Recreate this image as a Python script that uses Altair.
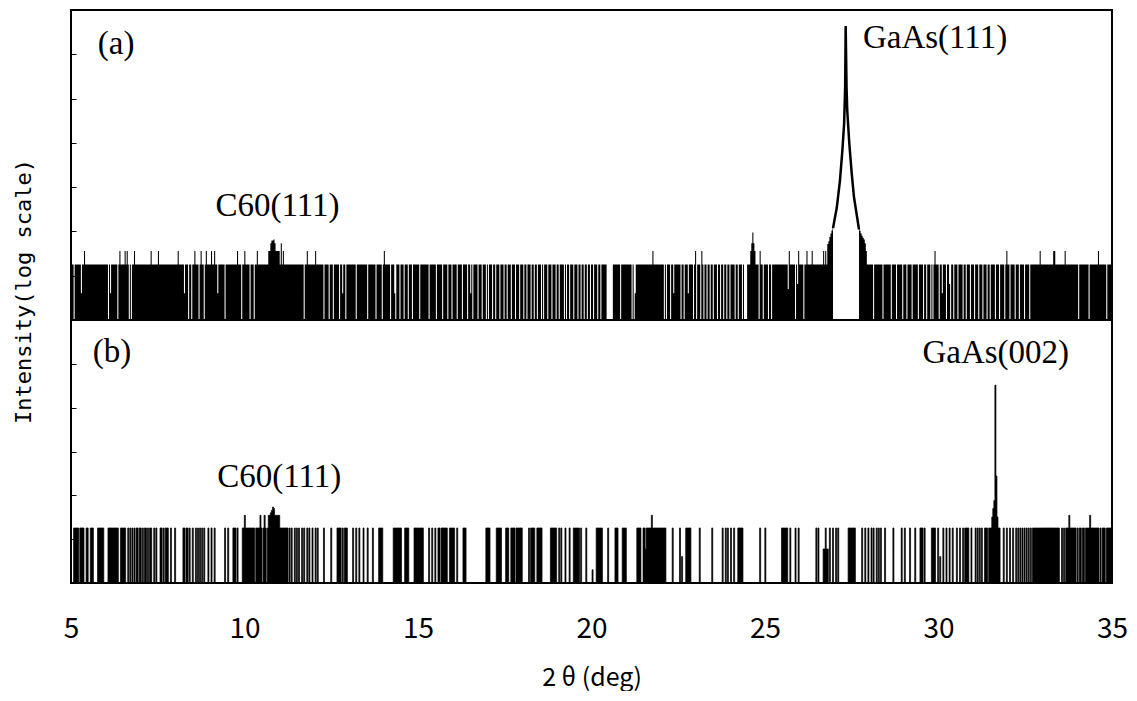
import altair as alt
import numpy as np
import pandas as pd

# ---------------- scan axis ----------------
STEP = 0.03
X_MIN, X_MAX = 5.0, 35.0
X_TICKS = [5, 10, 15, 20, 25, 30, 35]
Y_TICKS_A = [10, 100, 1e3, 1e4, 1e5, 1e6]
Y_TICKS_B = [10, 100, 1e3, 1e4, 1e5]
FLOOR = 1            # bottom of the log axes (zero counts sit here)

# ---------------- panel (a) ----------------
BASE_A = 18          # background count level
SPIKE_A = 36         # single-count spikes above background
GAPS_A = [
    5.09, 6.07, 6.34, 6.69, 6.74, 8.39, 8.49, 8.68, 8.85, 9.43, 9.91, 10.16, 10.29,
    11.73, 12.30, 12.45, 12.56, 12.73, 12.91, 13.21, 13.55, 13.79, 13.98, 14.22,
    14.37, 14.48, 14.61, 14.73, 14.85, 15.04, 15.33, 15.54, 15.71, 15.86, 15.98,
    16.14, 16.29, 16.43, 16.58, 16.72, 16.86, 16.97, 17.03, 17.14, 17.24, 17.36,
    17.48, 17.57, 17.69, 17.82, 17.94, 18.04, 18.13, 18.25, 18.34, 18.44, 18.55,
    18.63, 18.75, 18.87, 18.97, 19.06, 19.21, 19.28, 19.38, 19.50, 19.61, 19.69,
    19.78, 19.88, 19.96, 20.07, 20.19, 20.27, 20.45, 20.48, 20.51, 20.54, 20.57,
    20.60, 20.84, 21.18, 21.24, 22.09, 22.17, 22.28, 22.57, 22.67, 22.93, 23.04,
    23.14, 23.23, 23.33, 23.42, 23.52, 23.62, 23.71, 23.81, 23.91, 24.00, 24.13,
    24.24, 24.36, 24.40, 24.43, 24.46, 24.82, 24.96, 25.09, 25.20, 25.87, 26.11,
    28.12, 28.41, 28.65, 28.79, 28.97, 29.08, 29.23, 29.42, 29.56, 29.66, 29.77,
    29.85, 30.02, 30.24, 30.35, 30.45, 30.57, 30.70, 30.81, 30.93, 31.05, 31.15,
    31.27, 31.41, 31.50, 31.63, 31.77, 31.92, 32.06, 32.20, 32.33, 32.49, 32.62,
    34.03, 34.35, 34.85,
]
LOW_A = [(5.30, 4), (6.14, 4), (8.28, 4), (9.24, 4), (12.83, 4), (14.32, 4),
         (16.53, 4), (21.27, 4), (22.38, 4), (22.78, 4), (25.68, 5), (25.95, 6.5),
         (30.12, 4), (30.31, 6.5)]
SPIKES_A = [5.39, 6.40, 6.55, 6.62, 6.84, 7.30, 7.51, 8.08, 8.56, 8.76, 8.90, 9.06,
            9.14, 9.81, 10.01, 10.37, 11.82, 12.06, 14.03, 21.77, 22.99, 23.17, 24.87,
            25.71, 25.98, 26.21, 26.37, 26.69, 26.74, 29.90, 31.96, 32.93, 33.31,
            33.36, 33.66, 34.61]
BUMPS_A = [
    (10.71, 36), (10.74, 36), (10.77, 54), (10.80, 62), (10.83, 62), (10.86, 66),
    (10.89, 54), (10.92, 36), (10.95, 36), (10.98, 36), (11.01, 36), (11.07, 54),
    (11.13, 36),
    (24.58, 36), (24.61, 54), (24.64, 95), (24.67, 54), (24.70, 36),
    (26.80, 52), (26.83, 60), (26.86, 75), (26.89, 90), (26.92, 105), (26.96, 118),
    (27.71, 110), (27.74, 104), (27.77, 90), (27.80, 80), (27.83, 72), (27.86, 66),
    (27.89, 54), (27.92, 36),
]
PEAK_A_X = [26.96, 27.07, 27.16, 27.23, 27.28, 27.31, 27.325, 27.35, 27.37, 27.43,
            27.50, 27.565, 27.64, 27.71]
PEAK_A_I = [118, 350, 1410, 6750, 27000, 183000, 4350000, 183000, 54300, 9550,
            2000, 590, 247, 110]
LABEL_A_TEXT = ["(a)", "C60(111)", "GaAs(111)"]
LABEL_A_X = [6.30, 10.95, 29.90]
LABEL_A_Y = [1.7e6, 382, 2.3e6]

# ---------------- panel (b) ----------------
BASE_B = 18
RUNS_B = [
    (5.09, 5.20), (5.28, 5.35), (5.44, 5.49), (5.57, 5.63), (5.78, 5.92), (6.07, 6.16),
    (6.21, 6.34), (6.45, 6.55), (9.69, 9.75), (9.96, 11.24), (12.69, 12.78),
    (12.90, 12.96), (13.89, 13.98), (14.31, 14.50), (14.63, 14.72), (14.94, 15.14),
    (15.60, 15.82), (15.92, 16.05), (16.31, 16.38), (16.96, 17.05), (17.27, 17.38),
    (17.53, 17.59), (17.69, 17.77), (17.83, 17.98), (18.25, 18.34), (18.44, 18.56),
    (18.82, 18.98), (19.49, 19.65), (20.15, 20.31), (20.70, 20.76), (20.89, 20.99),
    (21.32, 21.42), (21.49, 22.12), (22.72, 22.81), (24.24, 24.34), (25.48, 25.64),
    (27.40, 27.60), (29.47, 29.53), (29.80, 29.90), (30.76, 30.86), (31.34, 31.77),
    (32.73, 35.00),
]
LINES_B = [
    6.65, 6.71, 6.77, 6.83, 6.89, 6.92, 6.98, 7.01, 7.07, 7.13, 7.16, 7.22, 7.28, 7.31,
    7.39, 7.46, 7.58, 7.61, 7.67, 7.73, 7.76, 7.79, 7.89, 7.99, 8.24, 8.27, 8.33, 8.36,
    8.42, 8.52, 8.61, 8.67, 8.73, 8.79, 8.85, 8.95, 9.04, 9.14, 9.43, 9.52, 9.81,
    11.29, 11.37, 11.44, 11.50, 11.58, 11.66, 11.72, 11.82, 11.87, 11.96, 12.06, 12.11,
    12.30, 12.49, 12.84, 13.12, 13.21, 13.31, 13.42, 13.55, 13.70, 14.89, 15.31, 15.40,
    15.51, 16.14, 18.20, 19.06, 19.13, 19.26, 19.38, 19.69, 19.84, 20.47, 22.34, 22.55,
    22.86, 23.13, 23.47, 23.78, 23.86, 23.93, 24.03, 24.10, 24.86, 25.00, 25.72, 25.87,
    25.97, 26.47, 26.55, 26.75, 26.88, 26.97, 27.05, 27.10, 27.80, 27.89, 27.98, 28.06,
    28.13, 28.21, 28.28, 28.35, 28.47, 28.71, 28.95, 29.03, 29.18, 29.32, 29.59, 30.00,
    30.14, 30.22, 30.33, 30.41, 30.52, 30.62, 30.72, 30.95, 31.08, 31.14, 31.20, 31.26,
    31.87, 31.96, 32.06, 32.16, 32.25, 32.30, 32.36, 32.42, 32.48, 32.54, 32.60, 32.66,
]
GAPS_B = [10.30, 10.53, 10.65, 15.66, 31.43, 33.50, 33.53, 33.59, 33.66, 33.98, 34.04,
          34.13, 34.22, 34.64, 34.70, 34.82]
LOW_B = [(20.02, 2), (21.56, 6), (22.62, 4), (26.69, 6), (26.72, 6), (26.78, 6),
         (26.81, 6), (30.06, 4)]
BUMPS_B = [
    (10.01, 35), (10.45, 35), (10.59, 35), (10.71, 35), (10.74, 35), (10.77, 40),
    (10.80, 45), (10.83, 54), (10.86, 50), (10.89, 35), (10.92, 35), (10.95, 35),
    (10.98, 35), (11.01, 35), (21.74, 35),
    (31.55, 32), (31.58, 50), (31.61, 76), (31.64, 32700), (31.67, 275), (31.70, 32),
    (31.73, 18), (33.76, 35), (34.37, 35),
]
LABEL_B_TEXT = ["(b)", "C60(111)", "GaAs(002)"]
LABEL_B_X = [6.18, 11.0, 31.65]
LABEL_B_Y = [1.86e5, 257, 1.77e5]

# ---------------- build tables ----------------
N = int(round((X_MAX - X_MIN) / STEP)) + 1
two_theta = np.round(X_MIN + STEP * np.arange(N), 2)


def ix(x):
    return int(round((x - X_MIN) / STEP))


ia = np.full(N, float(BASE_A))
for g in GAPS_A:
    ia[ix(g)] = 0
for x, v in LOW_A:
    ia[ix(x)] = v
for x in SPIKES_A:
    ia[ix(x)] = SPIKE_A
for x, v in BUMPS_A:
    ia[ix(x)] = v
keep = (two_theta <= PEAK_A_X[0]) | (two_theta >= PEAK_A_X[-1])
df_a = pd.DataFrame({"tt": two_theta, "I": ia, "seg": (two_theta > 27).astype(int)})[keep]
df_a["Ip"] = df_a["I"].clip(lower=FLOOR)
df_a["Ib"] = FLOOR
df_peak = pd.DataFrame({"tt": PEAK_A_X, "Ip": PEAK_A_I})
lab_a = pd.DataFrame({"tt": LABEL_A_X, "Ip": LABEL_A_Y, "label": LABEL_A_TEXT})

ib = np.zeros(N)
for s, e in RUNS_B:
    ib[ix(s):ix(e) + 1] = BASE_B
for x in LINES_B:
    ib[ix(x)] = BASE_B
for g in GAPS_B:
    ib[ix(g)] = 0
for x, v in LOW_B:
    ib[ix(x)] = v
for x, v in BUMPS_B:
    ib[ix(x)] = v
df_b = pd.DataFrame({"tt": two_theta, "I": ib})
df_b["Ip"] = df_b["I"].clip(lower=FLOOR)
df_b["Ib"] = FLOOR
lab_b = pd.DataFrame({"tt": LABEL_B_X, "Ip": LABEL_B_Y, "label": LABEL_B_TEXT})

# ---------------- chart ----------------
W, HA, HB = 1041, 310, 263
x_scale = alt.Scale(domain=[X_MIN, X_MAX], nice=False, zero=False)
SERIF = "Liberation Serif"
MONO = "DejaVu Sans Mono"
GOTHIC = "Noto Sans CJK JP"
LABEL_SIZE = 33

x_a = alt.X("tt:Q", scale=x_scale, axis=None)
y_axis_a = alt.Axis(values=Y_TICKS_A, labels=False, ticks=True, tickSize=5, tickWidth=1,
                    tickColor="black", domain=False, grid=False, offset=-5,
                    title="Intensity(log scale)", titleFont=MONO, titleFontSize=22,
                    titleFontWeight="normal", titleColor="black", titleAngle=270,
                    titleX=-53, titleY=281, titleAlign="center", titleBaseline="middle")
ya_scale = alt.Scale(type="log", domain=[FLOOR, 1e7], nice=False)
y_a = alt.Y("Ip:Q", scale=ya_scale, axis=y_axis_a)

area_a = alt.Chart(df_a).mark_area(interpolate="step", color="black").encode(
    x=x_a, y=y_a, y2=alt.Y2("Ib:Q"), detail="seg:N")
peak_a = alt.Chart(df_peak).mark_line(color="black", strokeWidth=2.5).encode(x=x_a, y=y_a)
text_a = alt.Chart(lab_a).mark_text(font=SERIF, fontSize=LABEL_SIZE, color="black",
                                    align="center", baseline="middle").encode(
    x=x_a, y=y_a, text="label:N")
top = alt.layer(area_a, peak_a, text_a).properties(width=W, height=HA)

x_axis_b = alt.Axis(values=X_TICKS, ticks=False, domain=False, grid=False, format="d",
                    labelFont=GOTHIC, labelFontSize=28, labelPadding=32, labelColor="black",
                    labelFlush=False, labelOverlap=False,
                    title="2 θ (deg)", titleFont=GOTHIC, titleFontSize=25,
                    titleFontWeight="normal", titleColor="black", titlePadding=22)
x_b = alt.X("tt:Q", scale=x_scale, axis=x_axis_b)
y_axis_b = alt.Axis(values=Y_TICKS_B, labels=False, ticks=True, tickSize=5, tickWidth=1,
                    tickColor="black", domain=False, grid=False, offset=-5, title=None)
yb_scale = alt.Scale(type="log", domain=[FLOOR, 1e6], nice=False)
y_b = alt.Y("Ip:Q", scale=yb_scale, axis=y_axis_b)

area_b = alt.Chart(df_b).mark_area(interpolate="step", color="black", stroke="black",
                                   strokeWidth=0.7).encode(
    x=x_b, y=y_b, y2=alt.Y2("Ib:Q"))
text_b = alt.Chart(lab_b).mark_text(font=SERIF, fontSize=LABEL_SIZE, color="black",
                                    align="center", baseline="middle").encode(
    x=x_b, y=y_b, text="label:N")
bottom = alt.layer(area_b, text_b).properties(width=W, height=HB)

chart = alt.vconcat(top, bottom, spacing=0, bounds="flush").properties(
    padding={"left": 3, "top": 1, "right": 0, "bottom": 0}
).configure_view(stroke="black", strokeWidth=2)

chart.save("out.html", embed_options={"renderer": "svg", "actions": False})
